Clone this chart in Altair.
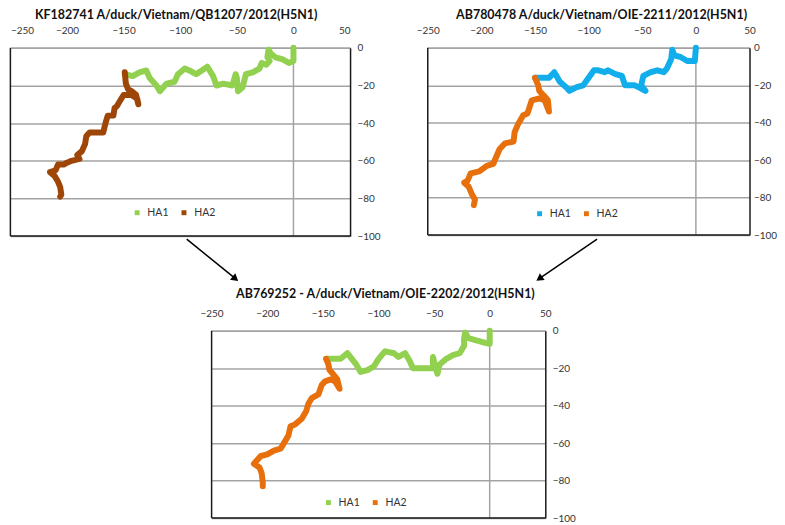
import altair as alt
import pandas as pd

# ---------------- data ----------------
SERIES = ["HA1", "HA2"]
X_TICKS = [-250, -200, -150, -100, -50, 0, 50]
Y_TICKS = [0, -20, -40, -60, -80, -100]

TITLE_1 = "KF182741 A/duck/Vietnam/QB1207/2012(H5N1)"
TITLE_2 = "AB780478 A/duck/Vietnam/OIE-2211/2012(H5N1)"
TITLE_3 = "AB769252 - A/duck/Vietnam/OIE-2202/2012(H5N1)"

# panel 1 (green / brown)
P1_HA1_X = [0, 0, -4, -10, -16, -20, -22, -23, -21, -24, -28, -30, -36, -42, -45, -49, -50, -51, -54,
            -62, -68, -71, -76, -81, -86, -92, -96, -102, -105, -112, -118, -121, -127, -130, -136, -142, -149]
P1_HA1_Y = [0, -7, -8, -6, -5, -3, -1, -5, -7, -9, -8, -11, -13, -14, -21, -23, -16, -14, -20,
            -19, -20, -15, -10, -12, -14, -12, -11, -14, -18, -19, -23, -20, -16, -12, -13, -15, -14]
P1_HA2_X = [-149, -148, -146, -143, -139, -137, -138, -143, -150, -153, -156, -158, -159, -164, -166, -168,
            -175, -180, -183, -184, -187, -191, -189, -196, -200, -203, -208, -210, -215, -211, -208, -206, -205, -206]
P1_HA2_Y = [-13, -19, -22, -23, -25, -30, -27, -25, -25, -28, -31, -32, -36, -36, -40, -45,
            -45, -45, -47, -51, -55, -57, -59, -60, -61, -62, -62, -65, -66, -68, -71, -74, -78, -79]

# panel 2 (blue / orange)
P2_HA1_X = [0, -1, -8, -14, -20, -22, -23, -27, -30, -36, -42, -49, -51, -47, -50, -57, -66, -69, -75, -82,
            -85, -91, -95, -100, -105, -111, -118, -121, -127, -132, -137, -143, -150]
P2_HA1_Y = [0, -7, -7, -5, -4, -1, -6, -11, -13, -12, -13, -15, -20, -23, -22, -20, -20, -15, -14, -12,
            -13, -12, -12, -16, -20, -21, -23, -21, -18, -13, -16, -16, -16]
P2_HA2_X = [-150, -147, -146, -141, -138, -137, -141, -146, -153, -157, -161, -166, -169, -170, -178, -183,
            -186, -189, -195, -202, -210, -213, -216, -212, -209, -206, -207]
P2_HA2_Y = [-16, -20, -23, -26, -28, -34, -28, -27, -28, -35, -36, -41, -45, -50, -51, -54,
            -58, -62, -63, -66, -67, -71, -72, -74, -78, -81, -84]

# panel 3 (green / orange)
P3_HA1_X = [0, 0, -7, -13, -19, -22, -23, -23, -27, -33, -39, -45, -47, -49, -51, -51, -57, -63, -69, -72,
            -76, -82, -86, -94, -97, -101, -104, -110, -116, -120, -128, -134, -140, -147]
P3_HA1_Y = [0, -7, -6, -5, -4, -1, -4, -8, -12, -13, -15, -18, -23, -19, -14, -20, -20, -20, -20, -16,
            -12, -14, -12, -11, -13, -16, -19, -21, -22, -18, -12, -15, -15, -15]
P3_HA2_X = [-147, -145, -144, -141, -137, -135, -139, -143, -148, -151, -154, -160, -163, -165, -169, -175,
            -179, -181, -185, -188, -194, -200, -206, -209, -212, -207, -205, -204, -204]
P3_HA2_Y = [-15, -18, -21, -23, -26, -31, -27, -26, -27, -29, -34, -36, -39, -43, -47, -50,
            -51, -56, -60, -63, -64, -66, -67, -69, -71, -73, -76, -81, -83]

GREEN = "#92D050"
BROWN = "#9E4608"
BLUE = "#12AEEC"
ORANGE = "#E8700C"

GRID = "#A3A3A3"
FRAME = "#1A1A1A"
TEXT = "#333333"
FONT = "Lato"


def make_panel(ha1x, ha1y, ha2x, ha2y, colors, title, tdx, toff, lx, ly, w, h, flush,
               ypad=7, arrow=None, left_pad=None):
    df = pd.DataFrame({
        "x": ha1x + ha2x,
        "y": ha1y + ha2y,
        "s": ["HA1"] * len(ha1x) + ["HA2"] * len(ha2x),
        "i": list(range(len(ha1x))) + list(range(len(ha2x))),
    })
    xs = alt.Scale(domain=[-250, 50], nice=False, zero=False)
    ys = alt.Scale(domain=[-100, 0], nice=False, zero=False)
    xa = alt.Axis(orient="top", values=X_TICKS, grid=False, ticks=False, domainColor=GRID, domainWidth=1.5,
                  labelFontSize=10, labelColor=TEXT, labelPadding=12, title=None, labelFlush=flush)
    ya = alt.Axis(orient="right", values=Y_TICKS, grid=True, gridColor=GRID, gridWidth=1.5, ticks=False,
                  domainColor=FRAME, domainWidth=1.5, labelFontSize=10, labelColor=TEXT, labelPadding=ypad,
                  title=None, minExtent=0)
    X = lambda: alt.X("x:Q", scale=xs, axis=xa)
    Y = lambda: alt.Y("y:Q", scale=ys, axis=ya)

    walk = alt.Chart(df).mark_line(strokeWidth=6, strokeJoin="round", strokeCap="round").encode(
        x=X(), y=Y(),
        color=alt.Color("s:N", scale=alt.Scale(domain=SERIES, range=colors), legend=alt.Legend(
            orient="none", legendX=lx, legendY=ly, direction="horizontal", title=None,
            labelFontSize=10.5, labelColor=TEXT, symbolType="square", symbolSize=6,
            symbolStrokeWidth=2.5, columnPadding=9, labelOffset=5)),
        order=alt.Order("i:Q"),
    )
    zero_line = alt.Chart(pd.DataFrame({"x": [0]})).mark_rule(color=GRID, strokeWidth=1.5).encode(x=X())
    left_line = alt.Chart(pd.DataFrame({"x": [-250]})).mark_rule(color=FRAME, strokeWidth=1.5).encode(x=X())
    bottom_line = alt.Chart(pd.DataFrame({"y": [-100]})).mark_rule(color=FRAME, strokeWidth=1.5).encode(y=Y())

    layers = [zero_line, walk, left_line, bottom_line]
    one = pd.DataFrame({"a": [0]})
    if arrow is not None:
        x1, y1, x2, y2, ang = arrow
        layers.append(alt.Chart(one).mark_rule(color="black", strokeWidth=1.5).encode(
            x=alt.value(x1), y=alt.value(y1), x2=alt.value(x2), y2=alt.value(y2)))
        layers.append(alt.Chart(one).mark_point(shape="triangle", filled=True, color="black",
                                                size=70, angle=ang, opacity=1).encode(
            x=alt.value(x2), y=alt.value(y2)))
    if left_pad is not None:
        # invisible spacer that only widens the panel's layout box
        layers.append(alt.Chart(one).mark_rule(strokeOpacity=0, strokeWidth=1).encode(
            x=alt.value(left_pad), y=alt.value(0), x2=alt.value(left_pad), y2=alt.value(1)))
    return alt.layer(*layers).properties(
        width=w, height=h,
        title=alt.TitleParams(title, fontSize=12.5, fontWeight="bold", font=FONT, color="#111111",
                              anchor="middle", frame="group", dx=tdx, offset=toff),
    )


p1 = make_panel(P1_HA1_X, P1_HA1_Y, P1_HA2_X, P1_HA2_Y, [GREEN, BROWN], TITLE_1, -4, 4, 122, 160,
                341, 189, True, arrow=(177, 192, 225, 231, 129.5))
p2 = make_panel(P2_HA1_X, P2_HA1_Y, P2_HA2_X, P2_HA2_Y, [BLUE, ORANGE], TITLE_2, 13, 4, 107, 161,
                323, 188, False, ypad=4, arrow=(170, 192, 113, 231, 235))
p3 = make_panel(P3_HA1_X, P3_HA1_Y, P3_HA2_X, P3_HA2_Y, [GREEN, ORANGE], TITLE_3, 7, 8, 112, 167,
                335, 188, False, left_pad=-43)

top = alt.hconcat(p1, p2, spacing=35).resolve_scale(color="independent")
chart = alt.vconcat(top, p3, spacing=6, center=True).resolve_scale(
    color="independent").properties(padding={"left": 1, "top": 0, "right": 0, "bottom": 0})
chart = chart.configure(font=FONT).configure_view(stroke=None)

chart.save("out.html", embed_options={"renderer": "svg", "actions": False})
